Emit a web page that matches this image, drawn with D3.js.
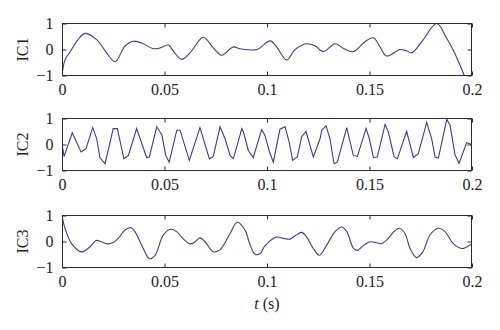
<!DOCTYPE html>
<html>
<head>
<meta charset="utf-8">
<script src="https://cdn.jsdelivr.net/npm/d3@7"></script>
<style>
  body { margin: 0; background: #fff; }
  text { font-family: "Liberation Serif", "DejaVu Serif", serif; fill: #222; }
</style>
</head>
<body>
<svg id="chart" width="500" height="330"></svg>
<script>
// tick labels
const xTicks = [0, 0.05, 0.1, 0.15, 0.2];
const yTicks = [-1, 0, 1];
const panelNames = ["IC1", "IC2", "IC3"];

// IC1 (smooth)
const ic1T = [0, 0.0015, 0.0047, 0.0075, 0.0112, 0.0169, 0.0218, 0.0259, 0.0307, 0.0348, 0.0397, 0.0445,
  0.0478, 0.0519, 0.0543, 0.0584, 0.0624, 0.0689, 0.0738, 0.0779, 0.0836, 0.0868, 0.095, 0.1015, 0.1047,
  0.1096, 0.1137, 0.1193, 0.1234, 0.1275, 0.1332, 0.1372, 0.1421, 0.1478, 0.1519, 0.1551, 0.1584, 0.1649,
  0.1681, 0.1706, 0.1755, 0.1828, 0.1877, 0.1909, 0.1965];
const ic1V = [-1.0, -0.4, 0.0, 0.35, 0.62, 0.38, -0.13, -0.47, 0.13, 0.32, 0.22, 0.03,
  0.06, 0.17, -0.06, -0.38, -0.13, 0.47, 0.06, -0.22, 0.1, 0.03, 0.0, 0.33, 0.1,
  -0.4, 0.0, 0.22, 0.14, -0.08, 0.22, 0.05, -0.08, 0.3, 0.45, 0.1, -0.25, 0.0,
  -0.05, -0.13, 0.3, 1.0, 0.42, -0.03, -1.05];

// IC2 (sampled, straight segments)
const ic2T = [0, 0.001, 0.005, 0.0093, 0.0117, 0.015, 0.0169, 0.0185, 0.021, 0.025, 0.027, 0.0302, 0.0324,
  0.0364, 0.0413, 0.0426, 0.0462, 0.0487, 0.0506, 0.0523, 0.056, 0.0576, 0.0621, 0.0673, 0.0719, 0.0738,
  0.0771, 0.0795, 0.082, 0.0836, 0.0877, 0.0885, 0.0909, 0.0933, 0.0974, 0.099, 0.1011, 0.1031, 0.1063,
  0.1088, 0.1108, 0.1125, 0.1148, 0.1169, 0.119, 0.1226, 0.1259, 0.1267, 0.1288, 0.1307, 0.1327, 0.1343,
  0.1389, 0.1421, 0.1441, 0.1483, 0.1499, 0.1519, 0.1538, 0.1576, 0.1592, 0.162, 0.1636, 0.1681, 0.1714,
  0.1738, 0.1779, 0.1803, 0.182, 0.1836, 0.1877, 0.1893, 0.1917, 0.1937, 0.1974, 0.2];
const ic2V = [0.03, -0.46, 0.45, -0.29, -0.16, 0.65, 0.23, -0.5, -0.74, 0.61, 0.61, -0.55, -0.42,
  0.61, -0.5, -0.48, 0.68, 0.38, -0.42, -0.68, 0.55, 0.55, -0.61, 0.65, -0.55, -0.46,
  0.68, 0.23, -0.42, -0.55, 0.61, 0.48, -0.23, -0.5, 0.57, 0.35, -0.26, -0.68, 0.59,
  0.68, 0.1, -0.61, -0.48, 0.29, 0.51, -0.48, 0.23, 0.55, 0.72, 0.23, -0.74, -0.68,
  0.65, -0.42, -0.46, 0.61, 0.23, -0.5, -0.48, 0.77, 0.48, -0.48, -0.55, 0.51, -0.5,
  -0.35, 0.85, 0.23, -0.48, -0.52, 0.97, 0.74, -0.39, -0.72, 0.07, 0.0];

// IC3 (smooth)
const ic3T = [0, 0.0015, 0.0047, 0.0096, 0.0137, 0.0166, 0.0185, 0.0218, 0.025, 0.0275, 0.0307, 0.0337,
  0.0356, 0.0389, 0.0426, 0.0454, 0.0494, 0.053, 0.0559, 0.0589, 0.0624, 0.0645, 0.0673, 0.0698, 0.0738,
  0.0771, 0.082, 0.0855, 0.0893, 0.0914, 0.0941, 0.0966, 0.099, 0.1047, 0.108, 0.1112, 0.1137, 0.1169,
  0.1193, 0.1226, 0.1255, 0.1291, 0.1332, 0.1364, 0.1389, 0.1421, 0.1441, 0.1473, 0.1502, 0.1535, 0.156,
  0.1592, 0.1616, 0.1645, 0.1673, 0.1698, 0.173, 0.176, 0.1795, 0.1836, 0.1868, 0.1909, 0.195, 0.1974, 0.2];
const ic3V = [1.0, 0.5, -0.08, -0.4, -0.2, 0.04, 0.01, -0.09, -0.04, 0.12, 0.44, 0.53,
  0.38, -0.14, -0.66, -0.53, 0.25, 0.47, 0.38, 0.12, -0.09, -0.04, 0.14, -0.01, -0.4,
  -0.31, 0.31, 0.74, 0.44, -0.05, -0.49, -0.47, -0.17, 0.17, 0.12, 0.09, 0.22, 0.35,
  0.18, -0.27, -0.53, -0.14, 0.38, 0.56, 0.38, -0.25, -0.34, -0.14, -0.01, -0.05, -0.08,
  0.12, 0.35, 0.51, 0.31, -0.27, -0.62, -0.4, 0.25, 0.51, 0.38, -0.08, -0.27, -0.21, -0.08];

const series = [
  { t: ic1T, v: ic1V, curve: d3.curveCatmullRom },
  { t: ic2T, v: ic2V, curve: d3.curveLinear },
  { t: ic3T, v: ic3V, curve: d3.curveCatmullRom }
];

const left = 62, right = 472, panelH = 52;
const panelTops = [23.5, 118.5, 215.5];
const lineColor = "#3a3a9c";
const axisColor = "#2b2b2b";

const svg = d3.select("#chart");
const x = d3.scaleLinear().domain([0, 0.2]).range([left, right]);

const fmtX = d => d === 0 ? "0" : String(d);
const fmtY = d => d < 0 ? "\u2212" + Math.abs(d) : String(d);

series.forEach((s, i) => {
  const top = panelTops[i];
  const bottom = top + panelH;
  const y = d3.scaleLinear().domain([-1, 1]).range([bottom, top]);
  const g = svg.append("g");

  g.append("clipPath").attr("id", "clip" + i)
    .append("rect")
    .attr("x", left).attr("y", top)
    .attr("width", right - left).attr("height", panelH);

  const pts = s.t.map((t, k) => [t, s.v[k]]);
  const line = d3.line()
    .x(d => x(d[0]))
    .y(d => y(d[1]))
    .curve(s.curve);

  g.append("path")
    .datum(pts)
    .attr("clip-path", "url(#clip" + i + ")")
    .attr("fill", "none")
    .attr("stroke", lineColor)
    .attr("stroke-width", 1.1)
    .attr("d", line);

  // box
  g.append("rect")
    .attr("x", left + 0.5).attr("y", top)
    .attr("width", right - left - 1).attr("height", panelH)
    .attr("fill", "none")
    .attr("stroke", axisColor)
    .attr("stroke-width", 1);

  // bottom axis (inward ticks)
  const xAxisB = d3.axisBottom(x).tickValues(xTicks).tickSizeInner(-4).tickSizeOuter(0)
    .tickPadding(8).tickFormat(fmtX);
  const gx = g.append("g").attr("transform", `translate(0,${bottom})`).call(xAxisB);
  gx.select(".domain").remove();
  gx.selectAll("line").attr("stroke", axisColor);
  gx.selectAll("text")
    .attr("font-family", "Liberation Serif")
    .attr("font-size", 16)
    .attr("fill", "#222")
    .attr("dy", "0.71em");

  // top ticks
  const xAxisT = d3.axisTop(x).tickValues(xTicks).tickSizeInner(-4).tickSizeOuter(0).tickFormat("");
  const gxt = g.append("g").attr("transform", `translate(0,${top})`).call(xAxisT);
  gxt.select(".domain").remove();
  gxt.selectAll("line").attr("stroke", axisColor);

  // left axis
  const yAxisL = d3.axisLeft(y).tickValues(yTicks).tickSizeInner(-4).tickSizeOuter(0)
    .tickPadding(9).tickFormat(fmtY);
  const gy = g.append("g").attr("transform", `translate(${left + 0.5},0)`).call(yAxisL);
  gy.select(".domain").remove();
  gy.selectAll("line").attr("stroke", axisColor);
  gy.selectAll("text")
    .attr("font-family", "Liberation Serif")
    .attr("font-size", 16)
    .attr("fill", "#222");

  // right ticks
  const yAxisR = d3.axisRight(y).tickValues(yTicks).tickSizeInner(-4).tickSizeOuter(0).tickFormat("");
  const gyr = g.append("g").attr("transform", `translate(${right - 0.5},0)`).call(yAxisR);
  gyr.select(".domain").remove();
  gyr.selectAll("line").attr("stroke", axisColor);

  // panel label
  g.append("text")
    .attr("transform", `translate(28,${(top + bottom) / 2}) rotate(-90)`)
    .attr("text-anchor", "middle")
    .attr("font-size", 16)
    .text(panelNames[i]);
});

svg.append("text")
  .attr("x", (left + right) / 2)
  .attr("y", 309)
  .attr("text-anchor", "middle")
  .attr("font-size", 16)
  .html('<tspan font-style="italic">t</tspan> (s)');
</script>
</body>
</html>
